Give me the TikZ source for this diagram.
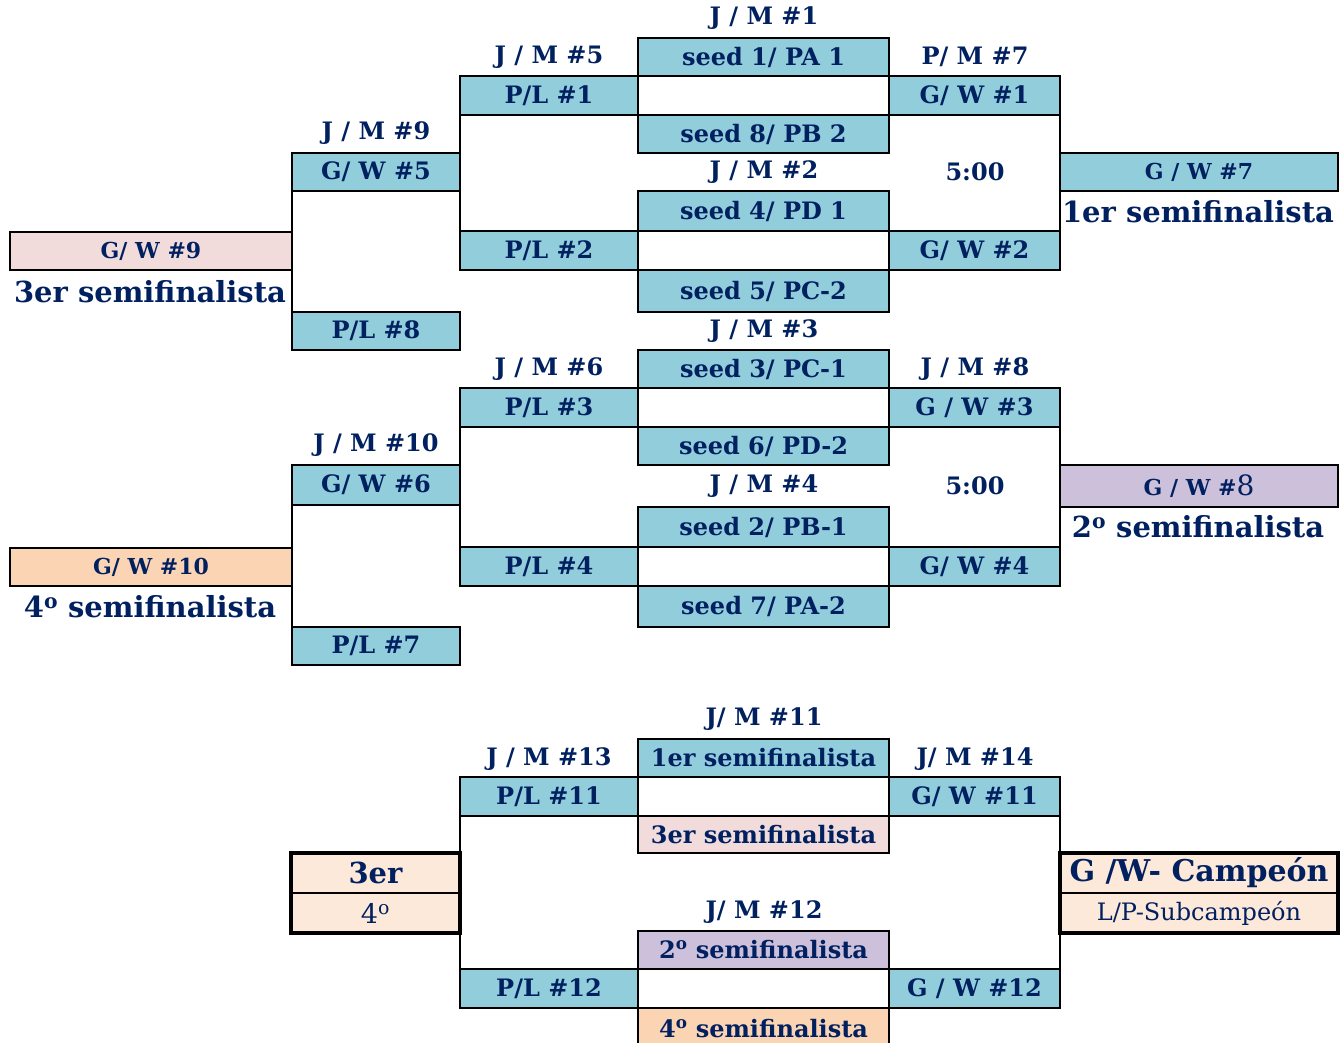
\documentclass[tikz,border=0pt]{standalone}
\usepackage{fontspec}
\setmainfont{DejaVu Serif}
\definecolor{navy}{HTML}{002060}
\definecolor{aqua}{HTML}{92CDDC}
\definecolor{rosa}{HTML}{F2DCDB}
\definecolor{naranja}{HTML}{FBD4B4}
\definecolor{lila}{HTML}{CCC0DA}
\definecolor{melocoton}{HTML}{FDE9D9}
\newcommand\lgfont{\fontsize{29}{33}\selectfont}
\newcommand\hgfont{\fontsize{30}{34}\selectfont}
\newcommand\smfont{\fontsize{22}{26}\selectfont}
\newcommand\mybox[7]{\node[bx, fill=#6, minimum width={#4-#2}, minimum height={#5-#3}] (#1) at ({(#2+#4)/2},{(#3+#5)/2}) {#7};}
\begin{document}
\begin{tikzpicture}[x=1pt,y=-1pt,
  every node/.style={text=navy, font=\bfseries\fontsize{24}{28}\selectfont},
  bx/.style={draw=black, line width=1.6pt, inner sep=0pt, outer sep=0pt, anchor=center},
  ln/.style={draw=black, line width=1.6pt},
  lbl/.style={inner sep=0pt, anchor=center},
  biglbl/.style={inner sep=0pt, anchor=center, font=\bfseries\lgfont}]
\useasboundingbox (0,0) rectangle (1343,1043);
% top half
\mybox{s1}{638}{38}{889}{76}{aqua}{seed 1/ PA 1}
\mybox{pl1}{460}{76}{638}{115}{aqua}{P/L \#1}
\mybox{gw1}{889}{76}{1060}{115}{aqua}{G/ W \#1}
\mybox{s8}{638}{115}{889}{153}{aqua}{seed 8/ PB 2}
\mybox{gw5}{292}{153}{460}{191}{aqua}{G/ W \#5}
\mybox{gw7}{1060}{153}{1338}{191}{aqua}{\smfont G / W \#7}
\mybox{s4}{638}{191}{889}{231}{aqua}{seed 4/ PD 1}
\mybox{gw9}{10}{232}{292}{270}{rosa}{\smfont G/ W \#9}
\mybox{pl2}{460}{231}{638}{270}{aqua}{P/L \#2}
\mybox{gw2}{889}{231}{1060}{270}{aqua}{G/ W \#2}
\mybox{s5}{638}{270}{889}{312}{aqua}{seed 5/ PC-2}
\mybox{pl8}{292}{312}{460}{350}{aqua}{P/L \#8}
\mybox{s3}{638}{350}{889}{388}{aqua}{seed 3/ PC-1}
\mybox{pl3}{460}{388}{638}{427}{aqua}{P/L \#3}
\mybox{gw3}{889}{388}{1060}{427}{aqua}{G / W \#3}
\mybox{s6}{638}{427}{889}{465}{aqua}{seed 6/ PD-2}
\mybox{gw6}{292}{465}{460}{505}{aqua}{G/ W \#6}
\mybox{gw8}{1060}{465}{1338}{507}{lila}{\smfont G / W \#{\mdseries\fontsize{28}{28}\selectfont 8}}
\mybox{s2}{638}{507}{889}{547}{aqua}{seed 2/ PB-1}
\mybox{gw10}{10}{548}{292}{586}{naranja}{\smfont G/ W \#10}
\mybox{pl4}{460}{547}{638}{586}{aqua}{P/L \#4}
\mybox{gw4}{889}{547}{1060}{586}{aqua}{G/ W \#4}
\mybox{s7}{638}{586}{889}{627}{aqua}{seed 7/ PA-2}
\mybox{pl7}{292}{627}{460}{665}{aqua}{P/L \#7}
% bottom half
\mybox{f1}{638}{739}{889}{777}{aqua}{1er semifinalista}
\mybox{pl11}{460}{777}{638}{816}{aqua}{P/L \#11}
\mybox{gw11}{889}{777}{1060}{816}{aqua}{G/ W \#11}
\mybox{f3}{638}{816}{889}{853}{rosa}{3er semifinalista}
\mybox{f2}{638}{931}{889}{969}{lila}{2\textsuperscript{o} semifinalista}
\mybox{pl12}{460}{969}{638}{1008}{aqua}{P/L \#12}
\mybox{gw12}{889}{969}{1060}{1008}{aqua}{G / W \#12}
\mybox{f4}{638}{1008}{889}{1050}{naranja}{4\textsuperscript{o} semifinalista}
\mybox{tA}{291}{853}{460}{893}{melocoton}{\lgfont 3er}
\mybox{tB}{291}{893}{460}{933}{melocoton}{\mdseries\fontsize{27}{30}\selectfont 4\textsuperscript{o}}
\mybox{cA}{1060}{853}{1338}{893}{melocoton}{\hgfont G /W- Campeón}
\mybox{cB}{1060}{893}{1338}{933}{melocoton}{\mdseries L/P-Subcampeón}
\draw[line width=3.5pt] (tA.north west) rectangle (tB.south east);
\draw[line width=3.5pt] (cA.north west) rectangle (cB.south east);
% connectors
\draw[ln] (pl1.south west) -- (pl2.north west);
\draw[ln] (gw1.south east) -- (gw2.north east);
\draw[ln] (gw5.south west) -- (pl8.north west);
\draw[ln] (pl3.south west) -- (pl4.north west);
\draw[ln] (gw3.south east) -- (gw4.north east);
\draw[ln] (gw6.south west) -- (pl7.north west);
\draw[ln] (pl11.south west) -- (pl12.north west);
\draw[ln] (gw11.south east) -- (gw12.north east);
% labels
\node[lbl] (m1) at (764,18) {J / M \#1};
\node[lbl] (m5) at (549,57) {J / M \#5};
\node[lbl] (m7) at (975,57) {P/ M \#7};
\node[lbl] (m9) at (376,133) {J / M \#9};
\node[lbl] (m2) at (764,172) {J / M \#2};
\node[lbl] (t1) at (975,172) {5:00};
\node[biglbl] (sf1) at (1198,212) {1er semifinalista};
\node[biglbl] (sf3) at (150,292) {3er semifinalista};
\node[lbl] (m3) at (764,331) {J / M \#3};
\node[lbl] (m6) at (549,369) {J / M \#6};
\node[lbl] (m8) at (975,369) {J / M \#8};
\node[lbl] (m10) at (376,445) {J / M \#10};
\node[lbl] (m4) at (764,486) {J / M \#4};
\node[lbl] (t2) at (975,486) {5:00};
\node[biglbl] (sf2) at (1198,527) {2\textsuperscript{o} semifinalista};
\node[biglbl] (sf4) at (150,607) {4\textsuperscript{o} semifinalista};
\node[lbl] (m11) at (764,719) {J/ M \#11};
\node[lbl] (m13) at (549,759) {J / M \#13};
\node[lbl] (m14) at (975,759) {J/ M \#14};
\node[lbl] (m12) at (764,912) {J/ M \#12};
\end{tikzpicture}
\end{document}
